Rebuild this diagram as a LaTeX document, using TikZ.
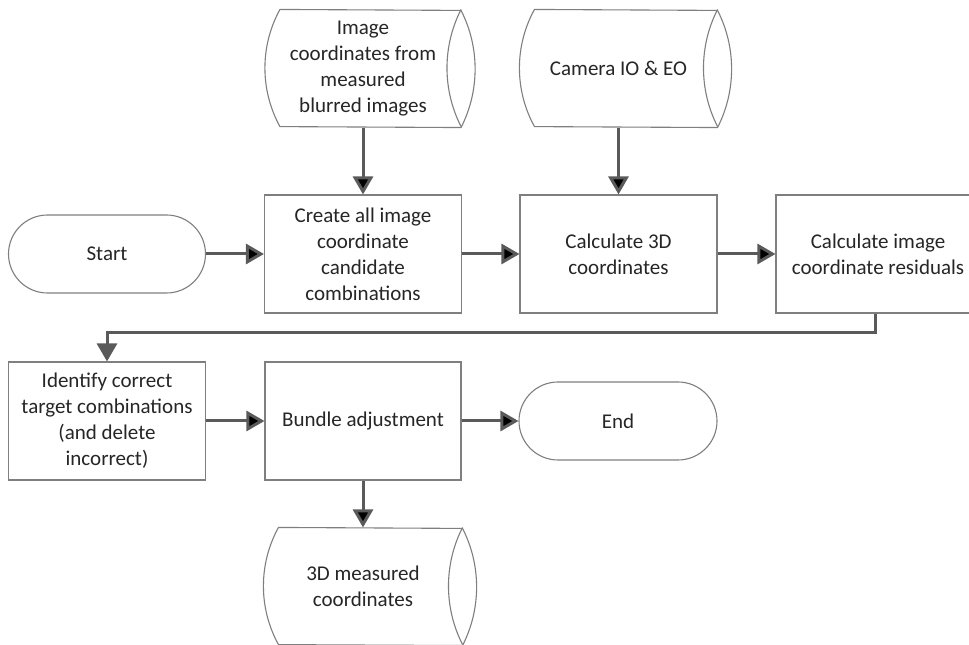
\documentclass[tikz,border=0pt]{standalone}
\usepackage{fontspec}
\setmainfont{Carlito}
\usetikzlibrary{arrows.meta}
\definecolor{fcgray}{HTML}{7F7F7F}
\definecolor{fcarrow}{HTML}{5A5A5A}
\definecolor{fctext}{HTML}{262626}

\begin{document}
\begin{tikzpicture}[x=1pt,y=1pt]
        \tikzset{
        fc box/.style={rectangle,draw=fcgray,fill=white,line width=1.1pt,align=center,
            text=fctext,font=\fontsize{21}{26}\selectfont,inner sep=0,
            minimum width=197pt,minimum height=118pt},
        fc term/.style={fc box,rounded corners=39pt,minimum height=78pt},
        fc store/.style={fc box,draw=none,fill=none,minimum height=117pt},
        fc line/.style={draw=fcgray,fill=white,line width=1.1pt},
        fc edge/.style={draw=fcarrow,line width=3pt,-{Triangle[length=18pt,width=20pt]}}
        }
        \useasboundingbox (0,0) rectangle (969,645);
        % first row
        \node[fc term] (start) at (107,391) {Start};
        \node[fc box] (c1) at (363,391) {Create all image\\coordinate\\candidate\\combinations};
        \node[fc box] (c2) at (618.5,391) {Calculate 3D\\coordinates};
        \node[fc box,minimum width=204pt] (c3) at (878,391) {Calculate image\\coordinate residuals};
        % second row
        \node[fc box] (id) at (107,224) {Identify correct\\target combinations\\(and delete\\incorrect)};
        \node[fc box,minimum width=196pt] (ba) at (363,224) {Bundle adjustment};
        \node[fc term,minimum width=198pt] (end) at (618,224) {End};
        % stored data
        \node[fc store,minimum width=195pt] (s1) at (363,576.5) {};
        \node[fc store] (s2) at (618.5,576.5) {};
        \node[fc store,minimum width=198pt] (s3) at (363,58.5) {};
        \foreach \n in {s1,s2,s3} {
            \path[fc line] ([xshift=15pt]\n.north west)
                arc[start angle=151.2,end angle=208.8,radius=121.6pt]
                -- (\n.south east)
                arc[start angle=-27,end angle=27,radius=129pt] -- cycle;
            \path[fc line,fill=none] (\n.north east)
                arc[start angle=153,end angle=207,radius=129pt];
        }
        \node[fc store] at (s1) {Image\\coordinates from\\measured\\blurred images};
        \node[fc store] at (s2) {Camera IO \& EO};
        \node[fc store] at (s3) {3D measured\\coordinates};

        \path[fc edge]
        (start) edge (c1)
        (c1) edge (c2)
        (c2) edge (c3)
        (s1) edge (c1)
        (s2) edge (c2)
        (id) edge (ba)
        (ba) edge (end)
        (ba) edge (s3)
        ;
        \draw[fc edge] (c3.south -| 875,0) -- ++(0,-19) -| (id.north);
    \end{tikzpicture}
\end{document}
